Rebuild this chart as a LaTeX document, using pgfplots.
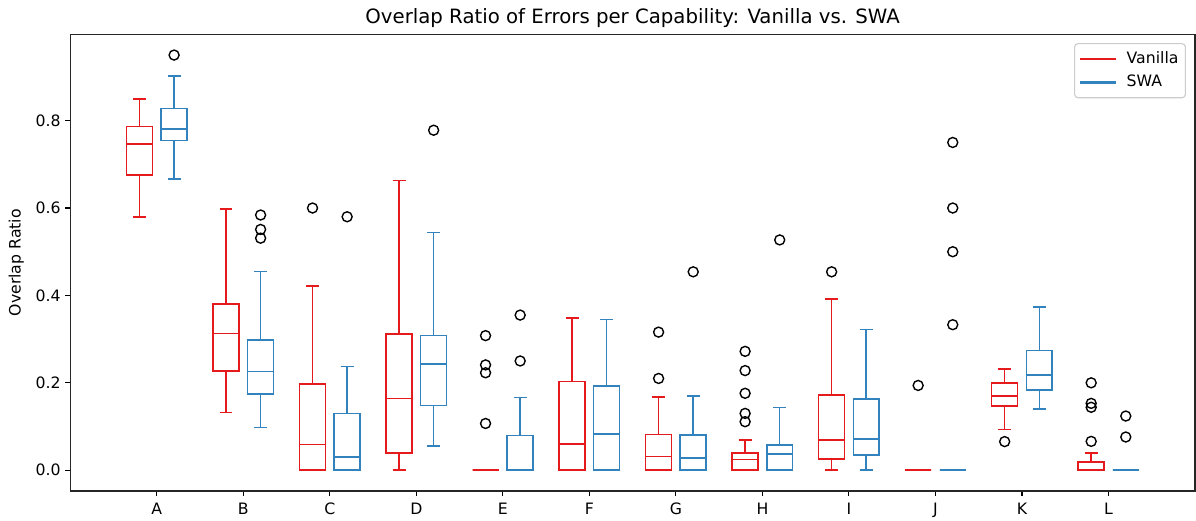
\documentclass[border=0pt]{standalone}
\usepackage{fontspec}
\setmainfont{DejaVu Sans}
\usepackage{pgfplots}
\pgfplotsset{compat=1.18}
\usepgfplotslibrary{statistics}
\definecolor{vred}{HTML}{E41A1C}
\definecolor{sblue}{HTML}{3182BD}
\newcommand{\fs}{\fontsize{11.3bp}{13.5bp}\selectfont}
\pgfplotsset{
  bx/.style={line width=1.1bp, solid, forget plot, mark=o, mark size=3.6bp,
    mark options={draw=black, line width=1bp, fill=none}},
}
\begin{document}
\begin{tikzpicture}
\begin{axis}[
  scale only axis, width=809.8bp, height=328.8bp,
  xmin=0, xmax=13, ymin=-0.0475, ymax=0.9975,
  boxplot/draw direction=y,
  xtick={1,2,3,4,5,6,7,8,9,10,11,12},
  xticklabels={A,B,C,D,E,F,G,H,I,J,K,L},
  ytick={0,0.2,0.4,0.6,0.8},
  yticklabel style={/pgf/number format/.cd, fixed, fixed zerofill, precision=1, assume math mode=true},
  xticklabel style={yshift=-1.8bp},
  tick label style={font=\fs},
  tick align=outside, tick pos=left,
  major tick length=3.5bp,
  tick style={black, line width=0.8bp},
  axis line style={line width=0.9bp, black!85},
  title={Overlap Ratio of Errors per Capability: Vanilla vs. SWA},
  title style={font=\fontsize{14.2bp}{16bp}\selectfont, at={(axis description cs:0.5,1)}, anchor=base, yshift=1.6bp, inner sep=0pt},
  ylabel={Overlap Ratio},
  ylabel style={font=\fs, at={(axis description cs:-0.0442,0.5)}, anchor=base, inner sep=0pt},
  legend style={at={(axis description cs:1,1)}, anchor=north east, xshift=-6.5bp, yshift=-6.3bp,
    draw=black!20, line width=0.8bp, rounded corners=2.5bp, font=\fs,
    nodes={inner sep=2bp, text height=8.5bp, text depth=2.5bp}, row sep=2bp,
    inner xsep=3bp, inner ysep=3.5bp, /tikz/column 1/.style={column sep=5bp}},
  legend cell align=left,
  legend image code/.code={\draw[#1, line width=1.5bp] (0bp,0bp) -- (26bp,0bp);},
]
\coordinate (bl) at (rel axis cs:0,0);
\coordinate (tr) at (rel axis cs:1,1);
% A
\addplot[vred, bx, boxplot prepared={draw position=0.8, lower whisker=0.580, lower quartile=0.676, median=0.747, upper quartile=0.786, upper whisker=0.850, box extend=0.3, whisker extend=0.15}] coordinates {};
\addplot[sblue, bx, boxplot prepared={draw position=1.2, lower whisker=0.666, lower quartile=0.755, median=0.781, upper quartile=0.828, upper whisker=0.902, box extend=0.3, whisker extend=0.15}] table[row sep=\\, y index=0] {y\\ 0.95\\};
% B
\addplot[vred, bx, boxplot prepared={draw position=1.8, lower whisker=0.132, lower quartile=0.227, median=0.313, upper quartile=0.380, upper whisker=0.598, box extend=0.3, whisker extend=0.15}] coordinates {};
\addplot[sblue, bx, boxplot prepared={draw position=2.2, lower whisker=0.098, lower quartile=0.175, median=0.226, upper quartile=0.298, upper whisker=0.455, box extend=0.3, whisker extend=0.15}] table[row sep=\\, y index=0] {y\\ 0.584\\ 0.551\\ 0.531\\};
% C
\addplot[vred, bx, boxplot prepared={draw position=2.8, lower whisker=0, lower quartile=0, median=0.059, upper quartile=0.197, upper whisker=0.422, box extend=0.3, whisker extend=0.15}] table[row sep=\\, y index=0] {y\\ 0.600\\};
\addplot[sblue, bx, boxplot prepared={draw position=3.2, lower whisker=0, lower quartile=0, median=0.030, upper quartile=0.130, upper whisker=0.237, box extend=0.3, whisker extend=0.15}] table[row sep=\\, y index=0] {y\\ 0.580\\};
% D
\addplot[vred, bx, boxplot prepared={draw position=3.8, lower whisker=0, lower quartile=0.039, median=0.164, upper quartile=0.312, upper whisker=0.663, box extend=0.3, whisker extend=0.15}] coordinates {};
\addplot[sblue, bx, boxplot prepared={draw position=4.2, lower whisker=0.056, lower quartile=0.148, median=0.243, upper quartile=0.308, upper whisker=0.544, box extend=0.3, whisker extend=0.15}] table[row sep=\\, y index=0] {y\\ 0.778\\};
% E
\addplot[vred, bx, boxplot prepared={draw position=4.8, lower whisker=0, lower quartile=0, median=0, upper quartile=0, upper whisker=0, box extend=0.3, whisker extend=0.15}] table[row sep=\\, y index=0] {y\\ 0.308\\ 0.241\\ 0.223\\ 0.107\\};
\addplot[sblue, bx, boxplot prepared={draw position=5.2, lower whisker=0, lower quartile=0, median=0, upper quartile=0.079, upper whisker=0.166, box extend=0.3, whisker extend=0.15}] table[row sep=\\, y index=0] {y\\ 0.355\\ 0.250\\};
% F
\addplot[vred, bx, boxplot prepared={draw position=5.8, lower whisker=0, lower quartile=0, median=0.060, upper quartile=0.203, upper whisker=0.348, box extend=0.3, whisker extend=0.15}] coordinates {};
\addplot[sblue, bx, boxplot prepared={draw position=6.2, lower whisker=0, lower quartile=0, median=0.083, upper quartile=0.193, upper whisker=0.345, box extend=0.3, whisker extend=0.15}] coordinates {};
% G
\addplot[vred, bx, boxplot prepared={draw position=6.8, lower whisker=0, lower quartile=0, median=0.031, upper quartile=0.082, upper whisker=0.167, box extend=0.3, whisker extend=0.15}] table[row sep=\\, y index=0] {y\\ 0.316\\ 0.210\\};
\addplot[sblue, bx, boxplot prepared={draw position=7.2, lower whisker=0, lower quartile=0, median=0.028, upper quartile=0.081, upper whisker=0.170, box extend=0.3, whisker extend=0.15}] table[row sep=\\, y index=0] {y\\ 0.454\\};
% H
\addplot[vred, bx, boxplot prepared={draw position=7.8, lower whisker=0, lower quartile=0, median=0.025, upper quartile=0.040, upper whisker=0.069, box extend=0.3, whisker extend=0.15}] table[row sep=\\, y index=0] {y\\ 0.272\\ 0.228\\ 0.176\\ 0.130\\ 0.111\\};
\addplot[sblue, bx, boxplot prepared={draw position=8.2, lower whisker=0, lower quartile=0, median=0.037, upper quartile=0.058, upper whisker=0.143, box extend=0.3, whisker extend=0.15}] table[row sep=\\, y index=0] {y\\ 0.527\\};
% I
\addplot[vred, bx, boxplot prepared={draw position=8.8, lower whisker=0, lower quartile=0.026, median=0.069, upper quartile=0.172, upper whisker=0.392, box extend=0.3, whisker extend=0.15}] table[row sep=\\, y index=0] {y\\ 0.454\\};
\addplot[sblue, bx, boxplot prepared={draw position=9.2, lower whisker=0, lower quartile=0.035, median=0.071, upper quartile=0.163, upper whisker=0.322, box extend=0.3, whisker extend=0.15}] coordinates {};
% J
\addplot[vred, bx, boxplot prepared={draw position=9.8, lower whisker=0, lower quartile=0, median=0, upper quartile=0, upper whisker=0, box extend=0.3, whisker extend=0.15}] table[row sep=\\, y index=0] {y\\ 0.194\\};
\addplot[sblue, bx, boxplot prepared={draw position=10.2, lower whisker=0, lower quartile=0, median=0, upper quartile=0, upper whisker=0, box extend=0.3, whisker extend=0.15}] table[row sep=\\, y index=0] {y\\ 0.750\\ 0.600\\ 0.500\\ 0.333\\};
% K
\addplot[vred, bx, boxplot prepared={draw position=10.8, lower whisker=0.093, lower quartile=0.147, median=0.170, upper quartile=0.200, upper whisker=0.232, box extend=0.3, whisker extend=0.15}] table[row sep=\\, y index=0] {y\\ 0.0655\\};
\addplot[sblue, bx, boxplot prepared={draw position=11.2, lower whisker=0.140, lower quartile=0.183, median=0.218, upper quartile=0.274, upper whisker=0.374, box extend=0.3, whisker extend=0.15}] coordinates {};
% L
\addplot[vred, bx, boxplot prepared={draw position=11.8, lower whisker=0, lower quartile=0, median=0, upper quartile=0.019, upper whisker=0.040, box extend=0.3, whisker extend=0.15}] table[row sep=\\, y index=0] {y\\ 0.200\\ 0.153\\ 0.144\\ 0.066\\};
\addplot[sblue, bx, boxplot prepared={draw position=12.2, lower whisker=0, lower quartile=0, median=0, upper quartile=0, upper whisker=0, box extend=0.3, whisker extend=0.15}] table[row sep=\\, y index=0] {y\\ 0.124\\ 0.076\\};
\addlegendimage{vred}
\addlegendentry{Vanilla}
\addlegendimage{sblue}
\addlegendentry{SWA}
\end{axis}
\pgfresetboundingbox
\path[use as bounding box] ([xshift=-50.6bp, yshift=-20.9bp]bl) rectangle ([xshift=0.72bp, yshift=24.7bp]tr);
\end{tikzpicture}
\end{document}
